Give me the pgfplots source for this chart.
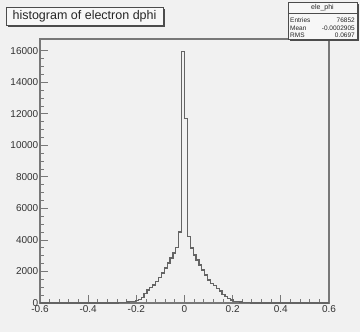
\documentclass[border=0pt]{standalone}
\usepackage{pgfplots}
\pgfplotsset{compat=1.18}
\usepackage{fontspec}
\setmainfont{Liberation Sans}
\definecolor{bg}{RGB}{241,241,241}
\definecolor{axc}{RGB}{120,120,120}
\definecolor{hc}{RGB}{100,100,100}
\begin{document}
\begin{tikzpicture}[x=1bp,y=1bp]
\fill[bg, use as bounding box] (0,0) rectangle (360,332);
\begin{axis}[
  at={(40bp,29bp)}, anchor=south west,
  scale only axis, width=289bp, height=264bp,
  xmin=-0.6, xmax=0.6, ymin=0, ymax=16750,
  axis background/.style={fill=bg},
  axis line style={draw=axc, line width=1.2bp},
  tick style={draw=axc, line width=0.9bp},
  tick align=inside,
  major tick length=8bp, minor tick length=4bp,
  xtick={-0.6,-0.4,-0.2,0,0.2,0.4,0.6},
  xticklabels={-0.6,-0.4,-0.2,0,0.2,0.4,0.6},
  ytick={0,2000,4000,6000,8000,10000,12000,14000,16000},
  yticklabels={0,2000,4000,6000,8000,10000,12000,14000,16000},
  minor x tick num=4, minor y tick num=3,
  xtick pos=left, ytick pos=left,
  ticklabel style={font=\fontsize{10bp}{12bp}\selectfont, text=black!80},
  yticklabel style={inner xsep=1.5bp},
  xticklabel style={inner ysep=2bp},
  scaled ticks=false,
]
\addplot[const plot, draw=hc, line width=1.2bp] coordinates {
(-0.600,0) (-0.276,10) (-0.264,20) (-0.252,40) (-0.240,60) (-0.228,90) (-0.216,110) (-0.204,170) (-0.192,200) (-0.180,340) (-0.168,610) (-0.156,830) (-0.144,970) (-0.132,1140) (-0.120,1350) (-0.108,1610) (-0.096,1900) (-0.084,2220) (-0.072,2540) (-0.060,2860) (-0.048,3170) (-0.036,3500) (-0.024,4500) (-0.012,15950) (0,11700) (0.012,4210) (0.024,3490) (0.036,3050) (0.048,2730) (0.060,2410) (0.072,2100) (0.084,1780) (0.096,1460) (0.108,1250) (0.120,1100) (0.132,930) (0.144,760) (0.156,550) (0.168,400) (0.180,300) (0.192,190) (0.204,100) (0.216,100) (0.228,60) (0.240,40) (0.252,20) (0.264,10) (0.276,0) (0.600,0)
};
\end{axis}
% title box
\fill[black!70] (8,305) rectangle (165,323);
\filldraw[fill=bg!60!white, draw=black!70, line width=0.8bp] (6,307) rectangle (163,325);
\node[font=\fontsize{12.5bp}{14bp}\selectfont, text=black!85] at (84.5,316) {histogram of electron dphi};
% stats box
\fill[black!70] (290,291) rectangle (359,328);
\filldraw[fill=bg!60!white, draw=black!70, line width=0.8bp] (288,293) rectangle (357,330);
\draw[black!70, line width=0.6bp] (288,318.5) -- (357,318.5);
\node[font=\fontsize{7bp}{8bp}\selectfont, text=black!85] at (322.5,324.5) {ele\_phi};
\node[font=\fontsize{6.5bp}{8bp}\selectfont, text=black!85, anchor=west, inner sep=1bp] at (289,312) {Entries};
\node[font=\fontsize{6.5bp}{8bp}\selectfont, text=black!85, anchor=east, inner sep=1bp] at (356,312) {76852};
\node[font=\fontsize{6.5bp}{8bp}\selectfont, text=black!85, anchor=west, inner sep=1bp] at (289,304) {Mean};
\node[font=\fontsize{6.5bp}{8bp}\selectfont, text=black!85, anchor=east, inner sep=1bp] at (356,304) {-0.0002905};
\node[font=\fontsize{6.5bp}{8bp}\selectfont, text=black!85, anchor=west, inner sep=1bp] at (289,297) {RMS};
\node[font=\fontsize{6.5bp}{8bp}\selectfont, text=black!85, anchor=east, inner sep=1bp] at (356,297) {0.0697};
\end{tikzpicture}
\end{document}
